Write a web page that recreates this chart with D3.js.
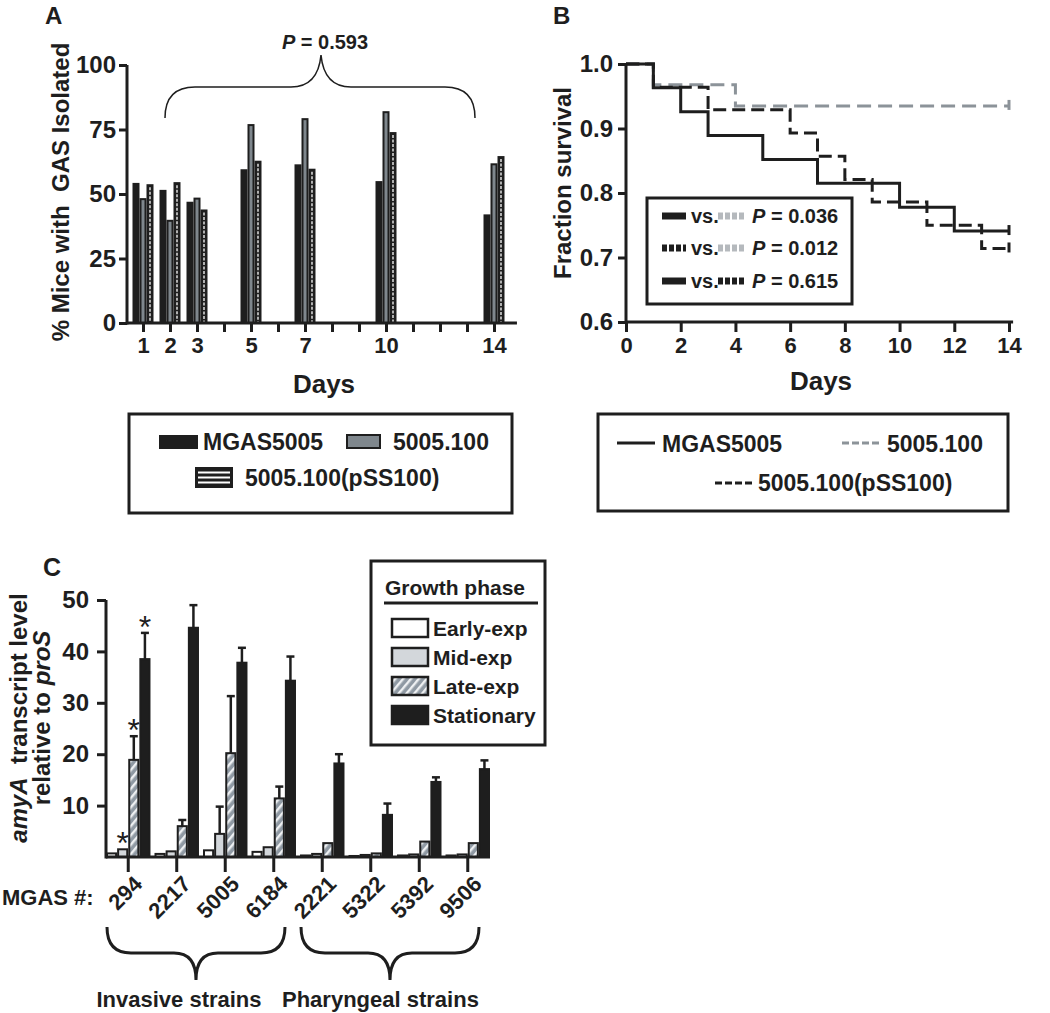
<!DOCTYPE html>
<html><head><meta charset="utf-8">
<script src="https://cdn.jsdelivr.net/npm/d3@7"></script>
<style>
body{margin:0;background:#fff}
svg{font-family:"Liberation Sans",Arial,sans-serif;font-weight:bold}
</style></head><body>
<svg id="c" width="1050" height="1013"></svg>
<script>
// ---------------- DATA ----------------
// Panel A
const daysA = [1, 2, 3, 5, 7, 10, 14];
const strainsA = ["MGAS5005", "5005.100", "5005.100(pSS100)"];
const mgasA = [54.3, 51.6, 47.0, 59.6, 61.5, 55.0, 42.1];
const del100A = [48.4, 40.0, 48.6, 77.1, 79.4, 82.1, 61.9];
const pss100A = [53.8, 54.6, 44.0, 62.9, 59.8, 74.0, 64.7];
const yTicksA = [0, 25, 50, 75, 100];
const dayTicksA = [1, 2, 3, 4, 5, 6, 7, 8, 9, 10, 11, 12, 13, 14];
const dayLabelsA = [1, 2, 3, 5, 7, 10, 14];
const pA = "0.593";

// Panel B
const mgasDays = [0, 1, 2, 3, 5, 7, 10, 12, 14];
const mgasSurv = [1.0, 0.963, 0.926, 0.889, 0.852, 0.815, 0.778, 0.741, 0.741];
const d100Days = [0, 1, 4, 14];
const d100Surv = [1.0, 0.968, 0.935, 0.935];
const pssDays = [0, 1, 3, 6, 7, 8, 9, 11, 13, 14];
const pssSurv = [1.0, 0.964, 0.929, 0.893, 0.857, 0.821, 0.786, 0.750, 0.714, 0.714];
const yTicksB = [0.6, 0.7, 0.8, 0.9, 1.0];
const xTicksB = [0, 2, 4, 6, 8, 10, 12, 14];
const pValsB = ["0.036", "0.012", "0.615"];

// Panel C
const strainsC = ["294", "2217", "5005", "6184", "2221", "5322", "5392", "9506"];
const phasesC = ["Early-exp", "Mid-exp", "Late-exp", "Stationary"];
const earlyC = [0.7, 0.6, 1.3, 1.0, 0.3, 0.2, 0.3, 0.3];
const midC = [1.5, 1.1, 4.5, 1.9, 0.6, 0.4, 0.5, 0.5];
const lateC = [18.9, 6.0, 20.2, 11.4, 2.7, 0.7, 3.0, 2.7];
const statC = [38.5, 44.6, 37.8, 34.3, 18.2, 8.2, 14.6, 17.1];
const earlyErrC = [null, null, null, null, null, null, null, null];
const midErrC = [null, null, 9.8, null, null, null, null, null];
const lateErrC = [23.5, 7.2, 31.3, 13.7, null, null, null, null];
const statErrC = [43.6, 49.0, 40.7, 39.0, 20.0, 10.4, 15.5, 18.8];
const yTicksC = [10, 20, 30, 40, 50];
const sigC = [["294", "Mid-exp"], ["294", "Late-exp"], ["294", "Stationary"]];
const groupsC = [{name: "Invasive strains", from: "294", to: "6184"},
                 {name: "Pharyngeal strains", from: "2221", to: "9506"}];

// ---------------- DRAW ----------------
const INK = "#1e1e1e";
const svg = d3.select("#c");
const defs = svg.append("defs");
const hatch = defs.append("pattern").attr("id", "hatch").attr("patternUnits", "userSpaceOnUse")
  .attr("width", 6).attr("height", 6).attr("patternTransform", "rotate(40)");
hatch.append("rect").attr("width", 6).attr("height", 6).attr("fill", "#8f99a3");
hatch.append("rect").attr("width", 2.4).attr("height", 6).attr("fill", "#eef0f2");

function styleAxis(g, fs) {
  g.attr("font-family", null).attr("font-size", null);
  g.selectAll(".domain").remove();
  g.selectAll(".tick line").attr("stroke", INK).attr("stroke-width", 3);
  g.selectAll(".tick text").attr("fill", INK).attr("font-size", fs).attr("font-weight", "bold");
}
function label(g, txt, x, y, fs, anchor) {
  return g.append("text").attr("x", x).attr("y", y).attr("font-size", fs)
    .attr("text-anchor", anchor || "start").attr("fill", INK).text(txt);
}

// ===== Panel A =====
const gA = svg.append("g");
const xA = d3.scaleLinear().domain([0, 14]).range([116, 494]);
const yA = d3.scaleLinear().domain([0, 100]).range([323, 65]);
const bw = 7;
const seriesA = [{vals: mgasA, kind: "black"}, {vals: del100A, kind: "gray"}, {vals: pss100A, kind: "stripe"}];
seriesA.forEach((s, si) => {
  s.vals.forEach((v, i) => {
    const x = xA(daysA[i]) - 1.5 * bw + si * bw;
    gA.append("rect").attr("x", x + 1).attr("y", yA(v) + 1).attr("width", bw - 2)
      .attr("height", yA(0) - yA(v) - 1)
      .attr("fill", s.kind === "gray" ? "#7f878d" : INK).attr("stroke", INK).attr("stroke-width", 2);
    if (s.kind === "stripe") {
      gA.append("line").attr("x1", x + bw / 2).attr("x2", x + bw / 2)
        .attr("y1", yA(v) + 3).attr("y2", yA(0) - 1)
        .attr("stroke", "#fff").attr("stroke-width", 1.3).attr("stroke-dasharray", "3,1.5");
    }
  });
});
const axYA = gA.append("g").attr("transform", "translate(127,0)")
  .call(d3.axisLeft(yA).tickValues(yTicksA).tickSize(8).tickPadding(3));
styleAxis(axYA, 24);
const axXA = gA.append("g").attr("transform", "translate(0,323)")
  .call(d3.axisBottom(xA).tickValues(dayTicksA).tickSize(9).tickPadding(5)
    .tickFormat(d => dayLabelsA.includes(d) ? d : ""));
styleAxis(axXA, 22);
gA.append("line").attr("x1", 127).attr("x2", 127).attr("y1", yA(100)).attr("y2", yA(0) + 1.5)
  .attr("stroke", INK).attr("stroke-width", 3);
gA.append("line").attr("x1", 127).attr("x2", xA(14.85)).attr("y1", 323).attr("y2", 323)
  .attr("stroke", INK).attr("stroke-width", 3);
label(gA, "A", 45, 24, 24);
label(gA, "Days", 324, 393, 26, "middle");
label(gA, "% Mice with\u00a0\u00a0GAS Isolated", 0, 0, 24, "middle")
  .attr("transform", "translate(69,192) rotate(-90)");
// brace + P
gA.append("path")
  .attr("d", "M165,118 Q165,87 195,87 L291,87 Q318,87 321,55 Q324,87 351,87 L445,87 Q475,87 475,118")
  .attr("fill", "none").attr("stroke", INK).attr("stroke-width", 1.5);
const tP = label(gA, "", 325, 49, 20, "middle");
tP.append("tspan").attr("font-style", "italic").text("P");
tP.append("tspan").text(" = " + pA);
// legend A
gA.append("rect").attr("x", 129).attr("y", 414).attr("width", 383).attr("height", 99)
  .attr("fill", "none").attr("stroke", INK).attr("stroke-width", 3);
gA.append("rect").attr("x", 159).attr("y", 435).attr("width", 39).attr("height", 14).attr("fill", INK);
label(gA, strainsA[0], 203, 450, 23);
gA.append("rect").attr("x", 347).attr("y", 435).attr("width", 33).attr("height", 13)
  .attr("fill", "#7f878d").attr("stroke", INK).attr("stroke-width", 2);
label(gA, strainsA[1], 393, 450, 23);
gA.append("rect").attr("x", 196).attr("y", 468).attr("width", 36).attr("height", 19)
  .attr("fill", INK).attr("stroke", INK).attr("stroke-width", 2);
[472.5, 477.5, 482.5].forEach(y => gA.append("line").attr("x1", 198).attr("x2", 230)
  .attr("y1", y).attr("y2", y).attr("stroke", "#fff").attr("stroke-width", 2));
label(gA, strainsA[2], 245, 486, 23);

// ===== Panel B =====
const gB = svg.append("g");
const xB = d3.scaleLinear().domain([0, 14]).range([626, 1009]);
const yB = d3.scaleLinear().domain([0.6, 1.0]).range([322, 64]);
const lineB = d3.line().x(d => xB(d[0])).y(d => yB(d[1])).curve(d3.curveStepAfter);
const curvesB = [
  {days: d100Days, surv: d100Surv, color: "#8c9399", dash: "14,7"},
  {days: pssDays, surv: pssSurv, color: INK, dash: "13,6"},
  {days: mgasDays, surv: mgasSurv, color: INK, dash: null}
];
curvesB.forEach(c => {
  const pts = c.days.map((d, i) => [d, c.surv[i]]);
  gB.append("path").attr("d", lineB(pts)).attr("fill", "none").attr("stroke", c.color)
    .attr("stroke-width", 3).attr("stroke-dasharray", c.dash);
  const last = pts[pts.length - 1];
  gB.append("line").attr("x1", xB(last[0])).attr("x2", xB(last[0]))
    .attr("y1", yB(last[1]) - 6).attr("y2", yB(last[1]) + 4)
    .attr("stroke", c.color).attr("stroke-width", 3);
});
const axYB = gB.append("g").attr("transform", "translate(626,0)")
  .call(d3.axisLeft(yB).tickValues(yTicksB).tickSize(8).tickPadding(5).tickFormat(d3.format(".1f")));
styleAxis(axYB, 24);
const axXB = gB.append("g").attr("transform", "translate(0,322)")
  .call(d3.axisBottom(xB).tickValues(xTicksB).tickSize(10).tickPadding(5));
styleAxis(axXB, 22);
gB.append("line").attr("x1", 626).attr("x2", 626).attr("y1", yB(1.0)).attr("y2", yB(0.6) + 1.5)
  .attr("stroke", INK).attr("stroke-width", 3);
gB.append("line").attr("x1", 626).attr("x2", xB(14.15)).attr("y1", 322).attr("y2", 322)
  .attr("stroke", INK).attr("stroke-width", 3);
label(gB, "B", 553, 24, 24);
label(gB, "Days", 821, 390, 26, "middle");
label(gB, "Fraction survival", 0, 0, 24, "middle").attr("transform", "translate(571,183) rotate(-90)");
// inner legend
gB.append("rect").attr("x", 647).attr("y", 198).attr("width", 205).attr("height", 106)
  .attr("fill", "#fff").attr("stroke", INK).attr("stroke-width", 3);
const rowsB = [
  {a: {c: INK, d: null}, b: {c: "#b5b9bd", d: "5,2"}},
  {a: {c: INK, d: "5,2"}, b: {c: "#b5b9bd", d: "5,2"}},
  {a: {c: INK, d: null}, b: {c: INK, d: "5,2"}}
];
[216, 248, 281].forEach((y, i) => {
  const r = rowsB[i];
  gB.append("line").attr("x1", 662).attr("x2", 686).attr("y1", y).attr("y2", y)
    .attr("stroke", r.a.c).attr("stroke-width", 7).attr("stroke-dasharray", r.a.d);
  label(gB, "vs.", 691, y + 7, 20);
  gB.append("line").attr("x1", 718).attr("x2", 744).attr("y1", y).attr("y2", y)
    .attr("stroke", r.b.c).attr("stroke-width", 7).attr("stroke-dasharray", r.b.d);
  const t = label(gB, "", 752, y + 7, 20);
  t.append("tspan").attr("font-style", "italic").text("P");
  t.append("tspan").text(" = " + pValsB[i]);
});
// bottom legend B
gB.append("rect").attr("x", 598).attr("y", 414).attr("width", 410).attr("height", 97)
  .attr("fill", "none").attr("stroke", INK).attr("stroke-width", 3);
gB.append("line").attr("x1", 617).attr("x2", 655).attr("y1", 443).attr("y2", 443)
  .attr("stroke", INK).attr("stroke-width", 3);
label(gB, "MGAS5005", 662, 452, 23);
gB.append("line").attr("x1", 842).attr("x2", 880).attr("y1", 443).attr("y2", 443)
  .attr("stroke", "#8c9399").attr("stroke-width", 3).attr("stroke-dasharray", "7,3");
label(gB, "5005.100", 887, 452, 23);
gB.append("line").attr("x1", 715).attr("x2", 753).attr("y1", 483).attr("y2", 483)
  .attr("stroke", INK).attr("stroke-width", 3).attr("stroke-dasharray", "7,3");
label(gB, "5005.100(pSS100)", 758, 491, 23);

// ===== Panel C =====
const gC = svg.append("g");
const x0 = d3.scaleBand().domain(strainsC).range([106, 490]).paddingInner(0.083).paddingOuter(0);
const x1 = d3.scaleBand().domain(phasesC).range([0, x0.bandwidth()]);
const yC = d3.scaleLinear().domain([0, 50]).range([857, 600]);
const seriesC = [
  {phase: phasesC[0], vals: earlyC, err: earlyErrC, fill: "#ffffff"},
  {phase: phasesC[1], vals: midC, err: midErrC, fill: "#d3d7db"},
  {phase: phasesC[2], vals: lateC, err: lateErrC, fill: "url(#hatch)"},
  {phase: phasesC[3], vals: statC, err: statErrC, fill: INK}
];
seriesC.forEach(s => {
  s.vals.forEach((v, i) => {
    const x = x0(strainsC[i]) + x1(s.phase);
    const w = x1.bandwidth();
    if (s.err[i] != null) {
      gC.append("line").attr("x1", x + w / 2).attr("x2", x + w / 2)
        .attr("y1", yC(v)).attr("y2", yC(s.err[i])).attr("stroke", INK).attr("stroke-width", 2.5);
      gC.append("line").attr("x1", x + w / 2 - 4).attr("x2", x + w / 2 + 4)
        .attr("y1", yC(s.err[i])).attr("y2", yC(s.err[i])).attr("stroke", INK).attr("stroke-width", 2.5);
    }
    gC.append("rect").attr("x", x + 1).attr("y", yC(v)).attr("width", w - 2)
      .attr("height", Math.max(0, yC(0) - yC(v)))
      .attr("fill", s.fill).attr("stroke", INK).attr("stroke-width", 2);
  });
});
sigC.forEach(([st, ph]) => {
  const si = phasesC.indexOf(ph), i = strainsC.indexOf(st);
  const s = seriesC[si];
  const top = s.err[i] != null ? s.err[i] : s.vals[i];
  gC.append("text").attr("x", x0(st) + x1(ph) + x1.bandwidth() / 2).attr("y", yC(top) - 13 + 18)
    .attr("text-anchor", "middle").attr("font-size", 32).attr("font-weight", "normal")
    .attr("fill", INK).text("*");
});
const axYC = gC.append("g").attr("transform", "translate(106,0)")
  .call(d3.axisLeft(yC).tickValues(yTicksC).tickSize(9).tickPadding(8));
styleAxis(axYC, 24);
gC.append("line").attr("x1", 106).attr("x2", 106).attr("y1", yC(50)).attr("y2", yC(0) + 1.5)
  .attr("stroke", INK).attr("stroke-width", 3);
gC.append("line").attr("x1", 106).attr("x2", 490).attr("y1", 857).attr("y2", 857)
  .attr("stroke", INK).attr("stroke-width", 3);
strainsC.forEach(st => {
  const cx = x0(st) + x0.bandwidth() / 2;
  gC.append("line").attr("x1", cx).attr("x2", cx).attr("y1", 857).attr("y2", 872)
    .attr("stroke", INK).attr("stroke-width", 3);
  gC.append("text").attr("text-anchor", "end").attr("dominant-baseline", "central")
    .attr("font-size", 22).attr("fill", INK)
    .attr("transform", `translate(${cx + 10},880) rotate(-45)`).text(st);
});
label(gC, "MGAS #:", 2, 905, 22);
label(gC, "C", 43, 576, 25);
const yl1 = gC.append("text").attr("text-anchor", "middle").attr("font-size", 24).attr("fill", INK)
  .attr("transform", "translate(27,718) rotate(-90)");
yl1.append("tspan").attr("font-style", "italic").text("amyA");
yl1.append("tspan").text("\u00a0\u00a0transcript level");
const yl2 = gC.append("text").attr("text-anchor", "middle").attr("font-size", 24).attr("fill", INK)
  .attr("transform", "translate(50,718) rotate(-90)");
yl2.append("tspan").text("relative to ");
yl2.append("tspan").attr("font-style", "italic").text("proS");
// braces
groupsC.forEach(g => {
  const a = x0(g.from) + 1, b = x0(g.to) + x0.bandwidth() - 11;
  const m = (a + b) / 2;
  gC.append("path")
    .attr("d", `M${a},927 Q${a},953 ${a + 24},953 L${m - 22},953 Q${m},953 ${m},980 Q${m},953 ${m + 22},953 L${b - 24},953 Q${b},953 ${b},927`)
    .attr("fill", "none").attr("stroke", INK).attr("stroke-width", 3);
});
label(gC, groupsC[0].name, 179, 1007, 22, "middle");
label(gC, groupsC[1].name, 282, 1007, 22, "start");
// legend C
gC.append("rect").attr("x", 371).attr("y", 561).attr("width", 174).attr("height", 184)
  .attr("fill", "#fff").attr("stroke", INK).attr("stroke-width", 3);
label(gC, "Growth phase", 385, 595, 21);
gC.append("line").attr("x1", 384).attr("x2", 538).attr("y1", 603).attr("y2", 603)
  .attr("stroke", INK).attr("stroke-width", 3);
[628, 657, 686, 715].forEach((y, i) => {
  gC.append("rect").attr("x", 392).attr("y", y - 9).attr("width", 36).attr("height", 18)
    .attr("fill", seriesC[i].fill).attr("stroke", INK).attr("stroke-width", 2.5);
  label(gC, phasesC[i], 433, y + 8, 21);
});
</script>
</body></html>
